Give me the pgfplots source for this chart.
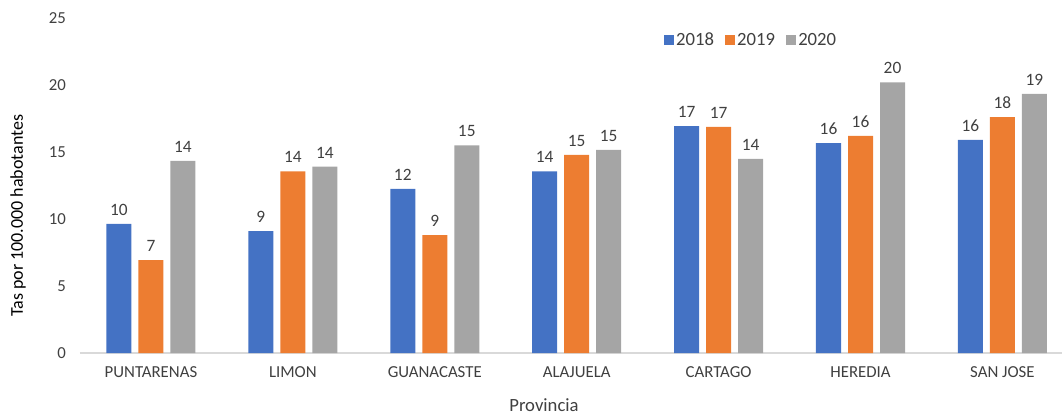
\documentclass[border=0pt]{standalone}
\usepackage{pgfplots}
\pgfplotsset{compat=1.18}
\usepackage{fontspec}
\setmainfont{Carlito}
\definecolor{c18}{HTML}{4472C4}
\definecolor{c19}{HTML}{ED7D31}
\definecolor{c20}{HTML}{A5A5A5}
\definecolor{axgray}{HTML}{D9D9D9}
\definecolor{txt}{HTML}{404040}
\begin{document}
\begin{tikzpicture}
\useasboundingbox (-60pt,-46.5pt) rectangle (736.5pt,264.75pt);
\begin{axis}[
  at={(0,0)}, anchor=south west,
  scale only axis, width=736.5pt, height=251.25pt,
  xmin=-0.5, xmax=6.42, ymin=0, ymax=25,
  ybar, bar width=18.75pt,
  axis x line=bottom, axis y line=left,
  x axis line style={axgray, line width=0.9pt, -},
  y axis line style={draw=none},
  xtick={0,1,2,3,4,5,6},
  xticklabels={PUNTARENAS,LIMON,GUANACASTE,ALAJUELA,CARTAGO,HEREDIA,SAN JOSE},
  major tick length=0pt,
  ytick={0,5,10,15,20,25},
  every tick label/.append style={font=\fontsize{12.6}{14}\selectfont, text=txt},
  xticklabel style={yshift=-7pt},
  yticklabel style={xshift=-7pt},
  /pgf/number format/assume math mode=true,
  yticklabel={\pgfmathprintnumber{\tick}},
  xlabel={Provincia},
  xlabel style={font=\fontsize{14}{16}\selectfont, text=txt, at={(rel axis cs:0.4725,0)}, anchor=center, yshift=-39pt},
  ylabel={Tas por 100.000 habotantes},
  ylabel style={font=\fontsize{13.5}{16}\selectfont, text=black, at={(rel axis cs:-0.0631,0.41)}, anchor=center},
  point meta=explicit symbolic,
  nodes near coords,
  nodes near coords style={font=\fontsize{13}{15}\selectfont, text=txt, anchor=south, yshift=3pt},
  legend style={draw=none, at={(rel axis cs:0.59,0.934)}, anchor=west, legend columns=-1, font=\fontsize{14}{16}\selectfont, text=txt, /tikz/every even column/.append style={column sep=6pt}},
  legend image code/.code={\fill[#1] (0pt,-3.7pt) rectangle (7.4pt,3.7pt);},
]
\addplot[fill=c18, draw=none, bar shift=-24pt] coordinates {
 (0,9.63) [10] (1,9.1) [9] (2,12.24) [12] (3,13.55) [14] (4,16.94) [17] (5,15.67) [16] (6,15.9) [16]};
\addplot[fill=c19, draw=none, bar shift=0pt] coordinates {
 (0,6.94) [7] (1,13.55) [14] (2,8.8) [9] (3,14.78) [15] (4,16.87) [17] (5,16.2) [16] (6,17.6) [18]};
\addplot[fill=c20, draw=none, bar shift=24pt] coordinates {
 (0,14.33) [14] (1,13.9) [14] (2,15.5) [15] (3,15.15) [15] (4,14.48) [14] (5,20.2) [20] (6,19.33) [19]};
\legend{2018,2019,2020}
\end{axis}
\end{tikzpicture}
\end{document}
